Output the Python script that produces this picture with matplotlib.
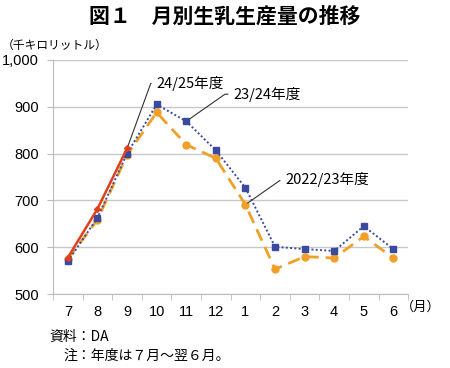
import numpy as np
import matplotlib.pyplot as plt
from matplotlib.ticker import FuncFormatter

months = ["7", "8", "9", "10", "11", "12", "1", "2", "3", "4", "5", "6"]
fy2022 = [575, 659, 797, 888, 819, 790, 691, 553, 580, 577, 623, 577]
fy2023 = [570, 663, 800, 905, 869, 807, 727, 601, 596, 592, 645, 596]
fy2024 = [578, 682, 811]

JP = ["Noto Sans CJK JP", "DejaVu Sans"]
NUM = ["Liberation Sans", "Noto Sans CJK JP"]

fig = plt.figure(figsize=(4.5, 3.68), dpi=100)
ax = fig.add_axes([0.118, 0.201, 0.789, 0.636])

x = np.arange(len(months))
ax.plot(x, fy2022, color="#F0A028", lw=2, ls=(0, (4.5, 2.5)), marker="o",
        ms=5, zorder=3)
ax.plot(x, fy2023, color="#3A4A9E", lw=1.4, ls=(0, (1, 1.2)), marker="s",
        ms=5, zorder=4)
ax.plot(x[:len(fy2024)], fy2024, color="#E0401E", lw=1.8, marker="D",
        ms=3, zorder=5)

ax.set_xlim(-0.5, 11.5)
ax.set_ylim(500, 1000)
ax.set_yticks([500, 600, 700, 800, 900, 1000])
ax.yaxis.set_major_formatter(FuncFormatter(lambda v, p: f"{int(v):,}"))
ax.set_xticks(x)
ax.set_xticklabels(months)
ax.set_xticks(np.arange(-0.5, 12, 1), minor=True)
ax.tick_params(axis="x", which="major", length=0, pad=8)
ax.tick_params(axis="x", which="minor", length=4, color="#BBBBBB")
ax.tick_params(axis="y", length=4, color="#BBBBBB", pad=6)
for lab in ax.get_xticklabels() + ax.get_yticklabels():
    lab.set_fontfamily(NUM)
    lab.set_fontsize(10.5)

ax.grid(axis="y", color="#C8C8C8", lw=1)
ax.set_axisbelow(True)
for s in ["top", "right"]:
    ax.spines[s].set_visible(False)
for s in ["left", "bottom"]:
    ax.spines[s].set_color("#BBBBBB")

# series labels with leader lines
ax.annotate("24/25年度", xy=(2, fy2024[2]), xytext=(3.0, 950),
            fontsize=10.5, family=JP, va="center",
            arrowprops=dict(arrowstyle="-", color="#333333", lw=0.8,
                            connectionstyle="angle,angleA=0,angleB=70,rad=0"))
ax.annotate("23/24年度", xy=(4, fy2023[4]), xytext=(5.6, 927),
            fontsize=10.5, family=JP, va="center",
            arrowprops=dict(arrowstyle="-", color="#333333", lw=0.8,
                            connectionstyle="angle,angleA=0,angleB=35,rad=0"))
ax.annotate("2022/23年度", xy=(6, fy2022[6]), xytext=(7.35, 745),
            fontsize=10.5, family=JP, va="center",
            arrowprops=dict(arrowstyle="-", color="#333333", lw=0.8,
                            connectionstyle="angle,angleA=0,angleB=35,rad=0"))

fig.text(0.5, 0.955, "図１　月別生乳生産量の推移", ha="center", va="center",
         fontsize=15, fontweight="bold", family=JP)
fig.text(0.005, 0.878, "（千キロリットル）", ha="left", va="center",
         fontsize=8.5, family=JP)
fig.text(0.89, 0.165, "（月）", ha="left", va="center", fontsize=9.5, family=JP)
fig.text(0.11, 0.085, "資料：DA", ha="left", va="center", fontsize=10, family=JP)
fig.text(0.14, 0.033, "注：年度は７月～翌６月。", ha="left", va="center",
         fontsize=10, family=JP)

fig.savefig("out.png", dpi=100)
